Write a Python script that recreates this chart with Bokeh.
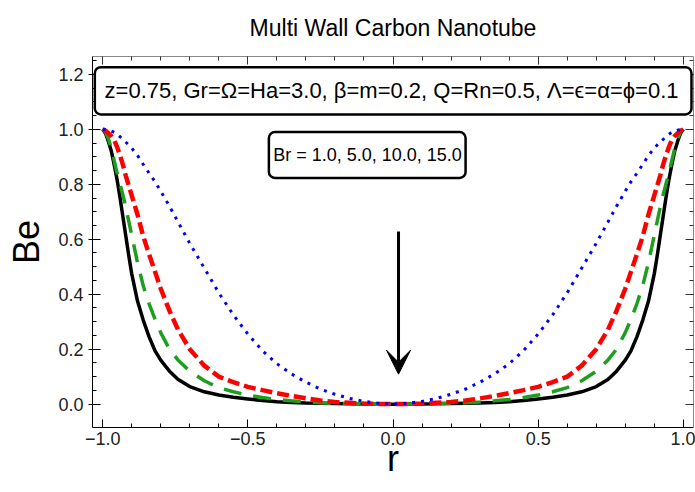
from bokeh.plotting import figure
from bokeh.models import (Range1d, LinearAxis, BoxAnnotation, Label, Arrow, VeeHead,
                          FixedTicker, CustomJSTickFormatter)
from bokeh.embed import file_html
from bokeh.resources import INLINE

# ---- data ----
r = [-1.0, -0.99, -0.98, -0.97, -0.96, -0.95, -0.94, -0.93, -0.92, -0.91, -0.90,
     -0.88, -0.86, -0.84, -0.82, -0.80, -0.77, -0.74, -0.70, -0.65, -0.60, -0.55,
     -0.50, -0.45, -0.40, -0.35, -0.30, -0.25, -0.20, -0.15, -0.10, -0.05, 0.0,
     0.05, 0.10, 0.15, 0.20, 0.25, 0.30, 0.35, 0.40, 0.45, 0.50, 0.55, 0.60, 0.65,
     0.70, 0.74, 0.77, 0.80, 0.82, 0.84, 0.86, 0.88, 0.90, 0.91, 0.92, 0.93, 0.94,
     0.95, 0.96, 0.97, 0.98, 0.99, 1.0]

# Br = 1.0 (black, solid)
be_br1 = [1.0, 0.985, 0.955, 0.92, 0.87, 0.815, 0.75, 0.68, 0.61, 0.54, 0.475,
          0.375, 0.305, 0.245, 0.195, 0.16, 0.12, 0.09, 0.064, 0.045, 0.033, 0.025,
          0.019, 0.013, 0.009, 0.006, 0.004, 0.003, 0.002, 0.001, 0.0005, 0.0002, 0.0,
          0.0002, 0.0005, 0.001, 0.002, 0.003, 0.004, 0.006, 0.009, 0.013, 0.019, 0.025,
          0.033, 0.045, 0.064, 0.09, 0.12, 0.16, 0.195, 0.245, 0.305, 0.375, 0.475,
          0.54, 0.61, 0.68, 0.75, 0.815, 0.87, 0.92, 0.955, 0.985, 1.0]

# Br = 5.0 (green, long dash)
be_br5 = [1.0, 0.99, 0.965, 0.93, 0.885, 0.84, 0.80, 0.76, 0.715, 0.665, 0.615,
          0.515, 0.43, 0.365, 0.31, 0.26, 0.20, 0.16, 0.12, 0.085, 0.06, 0.045,
          0.033, 0.024, 0.017, 0.012, 0.008, 0.005, 0.003, 0.002, 0.001, 0.0003, 0.0,
          0.0003, 0.001, 0.002, 0.003, 0.005, 0.008, 0.012, 0.017, 0.024, 0.033, 0.045,
          0.06, 0.085, 0.12, 0.16, 0.20, 0.26, 0.31, 0.365, 0.43, 0.515, 0.615,
          0.665, 0.715, 0.76, 0.80, 0.84, 0.885, 0.93, 0.965, 0.99, 1.0]

# Br = 10.0 (red, dashed)
be_br10 = [1.0, 0.995, 0.985, 0.975, 0.96, 0.935, 0.905, 0.87, 0.83, 0.795, 0.76,
           0.69, 0.61, 0.545, 0.483, 0.42, 0.34, 0.27, 0.20, 0.14, 0.10, 0.08,
           0.063, 0.051, 0.04, 0.03, 0.021, 0.013, 0.008, 0.005, 0.002, 0.0005, 0.0,
           0.0005, 0.002, 0.005, 0.008, 0.013, 0.021, 0.03, 0.04, 0.051, 0.063, 0.08,
           0.10, 0.14, 0.20, 0.27, 0.34, 0.42, 0.483, 0.545, 0.61, 0.69, 0.76,
           0.795, 0.83, 0.87, 0.905, 0.935, 0.96, 0.975, 0.985, 0.995, 1.0]

# Br = 15.0 (blue, dotted)
be_br15 = [1.0, 0.999, 0.997, 0.994, 0.989, 0.982, 0.973, 0.963, 0.953, 0.943, 0.932,
           0.905, 0.872, 0.84, 0.81, 0.775, 0.72, 0.662, 0.585, 0.495, 0.405, 0.325,
           0.255, 0.195, 0.147, 0.11, 0.08, 0.055, 0.036, 0.021, 0.01, 0.003, 0.0,
           0.003, 0.01, 0.021, 0.036, 0.055, 0.08, 0.11, 0.147, 0.195, 0.255, 0.325,
           0.405, 0.495, 0.585, 0.662, 0.72, 0.775, 0.81, 0.84, 0.872, 0.905, 0.932,
           0.943, 0.953, 0.963, 0.973, 0.982, 0.989, 0.994, 0.997, 0.999, 1.0]

x_major = [-1.0, -0.5, 0.0, 0.5, 1.0]
x_minor = [round(-1.0 + 0.1 * i, 2) for i in range(21)]
y_major = [0.0, 0.2, 0.4, 0.6, 0.8, 1.0, 1.2]
y_minor = [round(0.05 * i, 2) for i in range(26)]

title_text = "Multi Wall Carbon Nanotube"
param_text = "z=0.75, Gr=\u03a9=Ha=3.0, \u03b2=m=0.2, Q=Rn=0.5, \u039b=\u03f5=\u03b1=\u03d5=0.1"
br_text = "Br = 1.0, 5.0, 10.0, 15.0"

FONT = "Liberation Sans"

p = figure(width=695, height=492, output_backend="svg", toolbar_location=None,
           x_range=Range1d(-1.035, 1.035), y_range=Range1d(-0.085, 1.265),
           min_border_left=92, min_border_right=2, min_border_top=50,
           min_border_bottom=65, x_axis_label="r", y_axis_label="Be")
p.outline_line_color = None
p.xgrid.visible = False
p.ygrid.visible = False
p.background_fill_color = "white"
p.border_fill_color = "white"

p.title.text = title_text
p.title.align = "center"
p.title.vertical_align = "top"
p.title.text_font = FONT
p.title.text_font_size = "23px"
p.title.text_font_style = "normal"
p.title.text_color = "black"
p.title.standoff = 28

xt = FixedTicker(ticks=x_major, minor_ticks=x_minor)
yt = FixedTicker(ticks=y_major, minor_ticks=y_minor)
fmt = CustomJSTickFormatter(code="return tick.toFixed(1).replace('-', '\u2212');")
blank = CustomJSTickFormatter(code="return '';")

for ax in p.xaxis:
    ax.ticker = xt
    ax.formatter = fmt
    ax.major_tick_in = 8
    ax.major_tick_out = 0
    ax.minor_tick_in = 4
    ax.minor_tick_out = 0
    ax.major_label_standoff = 4
    ax.major_label_text_font = FONT
    ax.major_label_text_font_size = "18px"
    ax.major_label_text_color = "#222222"
    ax.axis_label_text_font = FONT
    ax.axis_label_text_font_size = "36px"
    ax.axis_label_text_font_style = "normal"
    ax.axis_label_text_color = "black"
    ax.axis_label_standoff = -10
    ax.axis_line_color = "black"

for ax in p.yaxis:
    ax.ticker = yt
    ax.formatter = fmt
    ax.major_tick_in = 8
    ax.major_tick_out = 4
    ax.minor_tick_in = 4
    ax.minor_tick_out = 0
    ax.major_label_standoff = 5
    ax.major_label_text_font = FONT
    ax.major_label_text_font_size = "18px"
    ax.major_label_text_color = "#222222"
    ax.axis_label_text_font = FONT
    ax.axis_label_text_font_size = "36px"
    ax.axis_label_text_font_style = "normal"
    ax.axis_label_text_color = "black"
    ax.axis_label_standoff = 8
    ax.axis_line_color = "black"

top = LinearAxis(ticker=xt, formatter=blank, axis_line_color="#888888",
                 major_tick_in=8, major_tick_out=0, minor_tick_in=4, minor_tick_out=0,
                 major_tick_line_color="#333333", minor_tick_line_color="#333333",
                 major_label_standoff=0)
right = LinearAxis(ticker=yt, formatter=blank, axis_line_color="#888888",
                   major_tick_in=8, major_tick_out=0, minor_tick_in=4, minor_tick_out=0,
                   major_tick_line_color="#333333", minor_tick_line_color="#333333",
                   major_label_standoff=0)
p.add_layout(top, "above")
p.add_layout(right, "right")

# curves
p.line(r, be_br1, line_color="black", line_width=3.5)
p.line(r, be_br5, line_color="#1e9e1e", line_width=3.5, line_dash="18 12")
p.line(r, be_br10, line_color="#ff0000", line_width=4.5, line_dash="12 5")
p.line(r, be_br15, line_color="#0000ff", line_width=3, line_dash="3 6")

# annotation boxes
box1 = BoxAnnotation(left=-1.027, right=1.028, bottom=1.054, top=1.226,
                     fill_color="white", fill_alpha=1.0, line_color="black",
                     line_alpha=1.0, line_width=2.5, border_radius=6)
box2 = BoxAnnotation(left=-0.4275, right=0.25, bottom=0.823, top=0.990,
                     fill_color="white", fill_alpha=1.0, line_color="black",
                     line_alpha=1.0, line_width=2.5, border_radius=6)
p.add_layout(box1)
p.add_layout(box2)
p.add_layout(Label(x=-0.005, y=1.14, text=param_text, text_font=FONT,
                   text_font_size="22px", text_align="center", text_baseline="middle",
                   text_color="black"))
p.add_layout(Label(x=-0.088, y=0.906, text=br_text, text_font=FONT,
                   text_font_size="18px", text_align="center", text_baseline="middle",
                   text_color="black"))

p.add_layout(Arrow(end=VeeHead(size=24, fill_color="black", line_color="black"),
                   x_start=0.019, y_start=0.628, x_end=0.019, y_end=0.109,
                   line_width=3, line_color="black"))

open("out.html", "w").write(file_html(p, INLINE))
